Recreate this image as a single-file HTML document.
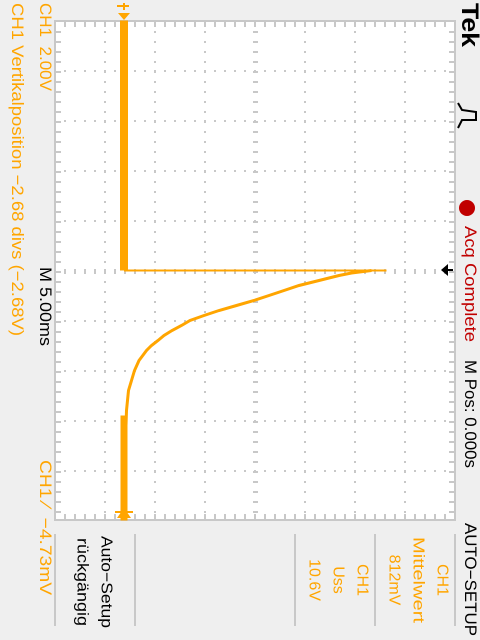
<!DOCTYPE html>
<html><head><meta charset="utf-8"><style>
html,body{margin:0;padding:0;background:#efefef;width:480px;height:640px;overflow:hidden}
svg{display:block}
text{font-family:"Liberation Sans",sans-serif;white-space:pre}
</style></head><body>
<svg id="scope" width="480" height="640" viewBox="0 0 480 640" xmlns="http://www.w3.org/2000/svg" xml:space="preserve">
<rect x="0" y="0" width="480" height="640" fill="#efefef"/>
<rect x="55" y="21" width="400" height="499" fill="#fff" stroke="#c8c8c8" stroke-width="2"/>
<g id="grid"></g>
<g id="trace"></g>
<g fill="#ffa500" stroke="#ffa500">
<line x1="117" y1="6" x2="129" y2="6" stroke-width="2"/><line x1="124" y1="3" x2="124" y2="10" stroke-width="2"/>
<polygon points="118,13 130,13 124,20" stroke="none"/>
</g>
<polygon points="117,518 131,518 124,508" fill="#ffa500"/>
<line x1="115" y1="512" x2="133" y2="512" stroke="#ffa500" stroke-width="2"/>
<g stroke="#000" stroke-width="2" fill="#000">
<line x1="443" y1="270" x2="453" y2="270"/><polygon points="441,270 448,264 448,276" stroke="none"/>
</g>
<text transform="translate(52,3) rotate(90)" dominant-baseline="hanging" font-size="17" fill="#ffa500" textLength="88" lengthAdjust="spacingAndGlyphs">CH1  2.00V</text>
<text transform="translate(24,3) rotate(90)" dominant-baseline="hanging" font-size="17" fill="#ffa500" textLength="333" lengthAdjust="spacingAndGlyphs">CH1 Vertikalposition −2.68 divs (−2.68V)</text>
<text transform="translate(52,267) rotate(90)" dominant-baseline="hanging" font-size="17" fill="#000" textLength="79" lengthAdjust="spacingAndGlyphs">M 5.00ms</text>
<text transform="translate(52,460) rotate(90)" dominant-baseline="hanging" font-size="17" fill="#ffa500" textLength="135" lengthAdjust="spacingAndGlyphs">CH1 ⁄  −4.73mV</text>
<text transform="translate(479,3) rotate(90)" dominant-baseline="hanging" font-size="24" font-weight="bold" font-family="Liberation Serif,serif" fill="#000" textLength="44" lengthAdjust="spacingAndGlyphs">Tek</text>
<path d="M458,103 L462,110 L476,112 L476,120 L462,120 L458,128" fill="none" stroke="#000" stroke-width="2"/>
<circle cx="467" cy="208" r="8" fill="#c00000"/>
<text transform="translate(477,226) rotate(90)" dominant-baseline="hanging" font-size="17" fill="#c00000" textLength="116" lengthAdjust="spacingAndGlyphs">Acq Complete</text>
<text transform="translate(477,360) rotate(90)" dominant-baseline="hanging" font-size="17" fill="#000" textLength="108" lengthAdjust="spacingAndGlyphs">M Pos: 0.000s</text>
<text transform="translate(477,523) rotate(90)" dominant-baseline="hanging" font-size="17" fill="#000" textLength="113" lengthAdjust="spacingAndGlyphs">AUTO−SETUP</text>
<g stroke="#c8c8c8" stroke-width="2">
<line x1="455" y1="534" x2="455" y2="626"/><line x1="375" y1="534" x2="375" y2="626"/>
<line x1="295" y1="534" x2="295" y2="626"/><line x1="135" y1="534" x2="135" y2="626"/>
<line x1="55" y1="534" x2="55" y2="626"/>
</g>
<g font-size="16" fill="#ffa500" text-anchor="middle" dominant-baseline="hanging">
<text transform="translate(448,580) rotate(90)">CH1</text>
<text transform="translate(424,580) rotate(90)" textLength="86" lengthAdjust="spacingAndGlyphs">Mittelwert</text>
<text transform="translate(400,580) rotate(90)">812mV</text>
</g>
<g font-size="16" fill="#ffa500" text-anchor="middle" dominant-baseline="hanging">
<text transform="translate(368,580) rotate(90)">CH1</text>
<text transform="translate(344,580) rotate(90)">Uss</text>
<text transform="translate(320,580) rotate(90)">10.6V</text>
</g>
<g font-size="16" fill="#000" text-anchor="middle" dominant-baseline="hanging">
<text transform="translate(112,582) rotate(90)" textLength="92" lengthAdjust="spacingAndGlyphs">Auto−Setup</text>
<text transform="translate(88,582) rotate(90)" textLength="88" lengthAdjust="spacingAndGlyphs">rückgängig</text>
</g>
</svg>
<script>
// decay data: time in ms after trigger, volts
const decayTimes = [0, 0.25, 0.5, 1, 1.5, 2, 2.5, 3, 3.5, 4, 4.5, 5, 5.5, 6, 6.5, 7, 7.5, 8, 8.5, 9, 10, 11, 12, 14, 17, 25];
const decayVolts = [9.9, 9.1, 8.6, 7.8, 7.0, 6.4, 5.8, 5.2, 4.5, 3.8, 3.2, 2.64, 2.3, 1.92, 1.6, 1.36, 1.1, 0.9, 0.75, 0.6, 0.42, 0.3, 0.18, 0.1, 0.06, 0.04];
const preTriggerStart = -25;
const peakVolts = 10.5;
const baselineVolts = 0;

const NS = 'http://www.w3.org/2000/svg';
const groundX = 124, centerY = 270.5;
function xV(v){ return groundX + v*25; }
function yT(t){ return centerY + t*10; }

const grid = document.getElementById('grid');
function dot(x,y,w,h){
  const r=document.createElementNS(NS,'rect');
  r.setAttribute('x',x);r.setAttribute('y',y);r.setAttribute('width',w);r.setAttribute('height',h);
  r.setAttribute('fill','#c8c8c8');grid.appendChild(r);
}
for(let gx=105; gx<=405; gx+=50){
  for(let y=31; y<520; y+=10){ if(gx===255) dot(gx-2,y,5,2); else dot(gx-1,y,2,2); }
}
for(let gy=71; gy<=471; gy+=50){
  for(let x=65; x<455; x+=10){ if(gy===271) dot(x-1,gy-2,2,5); else dot(x-1,gy-1,2,2); }
}
for(let y=31; y<520; y+=10){ dot(56,y,5,2); dot(449,y,5,2); }
for(let x=65; x<455; x+=10){ dot(x-1,22,2,5); dot(x-1,514,2,5); }

const trace = document.getElementById('trace');
const base = document.createElementNS(NS,'line');


base.setAttribute('x1',xV(baselineVolts)); base.setAttribute('x2',xV(baselineVolts));
base.setAttribute('y1',yT(preTriggerStart)); base.setAttribute('y2',yT(0));
base.setAttribute('stroke','#ffa500'); base.setAttribute('stroke-width','8');
trace.appendChild(base);
const spike = document.createElementNS(NS,'line');


spike.setAttribute('x1',xV(baselineVolts)); spike.setAttribute('x2',xV(peakVolts));
spike.setAttribute('y1',yT(0)); spike.setAttribute('y2',yT(0));
spike.setAttribute('stroke','#ffa500'); spike.setAttribute('stroke-width','2');
trace.appendChild(spike);
let d='';
decayTimes.forEach((t,i)=>{
  const x=xV(decayVolts[i]), y=yT(t);
  d += (i===0?'M':' L') + x + ',' + y;
});
const decay = document.createElementNS(NS,'path');


decay.setAttribute('d',d); decay.setAttribute('fill','none');
decay.setAttribute('stroke','#ffa500'); decay.setAttribute('stroke-width','3');
trace.appendChild(decay);
const tail = document.createElementNS(NS,'line');


tail.setAttribute('x1',xV(baselineVolts)); tail.setAttribute('x2',xV(baselineVolts));
tail.setAttribute('y1',yT(decayTimes[23])+5); tail.setAttribute('y2',yT(decayTimes[decayTimes.length-1]));
tail.setAttribute('stroke','#ffa500'); tail.setAttribute('stroke-width','7');
trace.appendChild(tail);
</script>
</body></html>
